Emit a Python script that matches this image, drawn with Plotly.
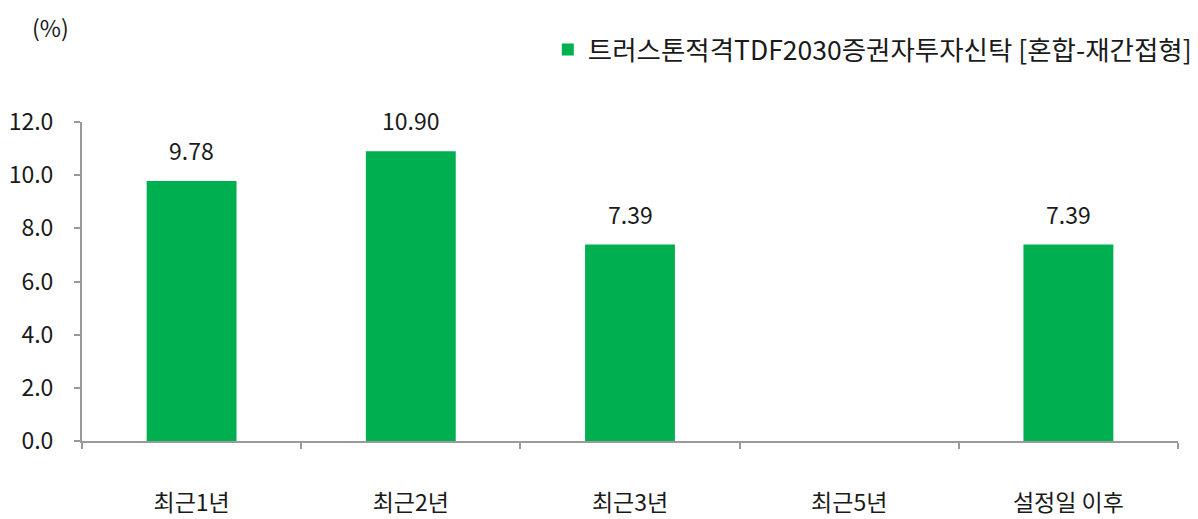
import plotly.graph_objects as go

categories = ["최근1년", "최근2년", "최근3년", "최근5년", "설정일 이후"]
values = [9.78, 10.90, 7.39, None, 7.39]
series_name = "트러스톤적격TDF2030증권자투자신탁 [혼합-재간접형]"
y_ticks = [0, 2, 4, 6, 8, 10, 12]

GREEN = "#00AF50"
FONT = "Noto Sans CJK KR, Noto Sans, sans-serif"
TXT = "#1a1a1a"
AX = "#9a9a9a"
FS = 23

fig = go.Figure()
fig.add_trace(go.Bar(
    x=categories, y=values, name=series_name,
    marker=dict(color=GREEN, line=dict(width=0)),
    width=0.41, showlegend=True,
))

annotations = []
for c, v in zip(categories, values):
    if v is None:
        continue
    annotations.append(dict(x=c, y=v, xref="x", yref="y", text=f"{v:.2f}",
                            showarrow=False, yanchor="bottom", yshift=12,
                            font=dict(size=FS, color=TXT, family=FONT)))
annotations.append(dict(x=-0.029, y=1.298, xref="paper", yref="paper", text="(%)",
                        showarrow=False, xanchor="center", yanchor="middle",
                        font=dict(size=FS, color=TXT, family=FONT)))

fig.update_layout(
    width=1198, height=519,
    margin=dict(l=82, r=20, t=122, b=78, autoexpand=False),
    plot_bgcolor="white", paper_bgcolor="white",
    font=dict(family=FONT, size=FS, color=TXT),
    showlegend=True,
    legend=dict(x=0.999, xref="container", xanchor="right",
                y=0.904, yref="container", yanchor="middle",
                orientation="h",
                font=dict(size=26.5, family=FONT, color=TXT),
                bgcolor="rgba(0,0,0,0)"),
    annotations=annotations,
    xaxis=dict(
        type="category", range=[-0.5, 4.5], automargin=False,
        showline=True, linecolor=AX, linewidth=2,
        ticks="outside", tickson="boundaries", ticklen=6, tickcolor=AX, tickwidth=2,
        tickfont=dict(size=FS, color=TXT, family=FONT),
        ticklabelstandoff=40, showgrid=False, zeroline=False,
    ),
    yaxis=dict(
        range=[0, 12], tickvals=y_ticks, tickformat=".1f", automargin=False,
        showline=True, linecolor=AX, linewidth=2,
        ticks="outside", ticklen=6, tickcolor=AX, tickwidth=2,
        tickfont=dict(size=FS, color=TXT, family=FONT),
        ticklabelstandoff=16, showgrid=False, zeroline=False,
    ),
)

fig.write_html("out.html", config={"displayModeBar": False})

# remove the default page margin so the figure sits at the window's top-left corner
with open("out.html", encoding="utf-8") as f:
    html = f.read()
html = html.replace("<head>", "<head><style>html,body{margin:0;padding:0;overflow:hidden;}</style>", 1)
with open("out.html", "w", encoding="utf-8") as f:
    f.write(html)
